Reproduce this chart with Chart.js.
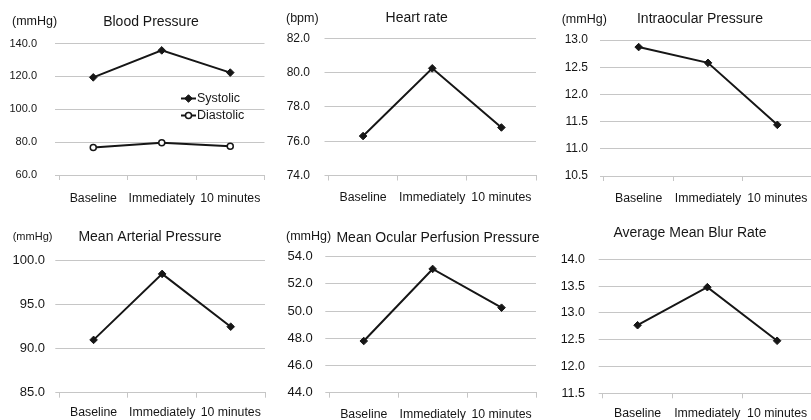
<!DOCTYPE html>
<html>
<head>
<meta charset="utf-8">
<script src="https://cdn.jsdelivr.net/npm/chart.js@4"></script>
<style>
    html, body { margin: 0; padding: 0; background: #fff; overflow: hidden; }
    body { width: 811px; height: 420px; position: relative; }
    .panel { position: absolute; }
</style>
</head>
<body>
<div class="panel" id="p1"><canvas id="c1"></canvas></div>
<div class="panel" id="p2"><canvas id="c2"></canvas></div>
<div class="panel" id="p3"><canvas id="c3"></canvas></div>
<div class="panel" id="p4"><canvas id="c4"></canvas></div>
<div class="panel" id="p5"><canvas id="c5"></canvas></div>
<div class="panel" id="p6"><canvas id="c6"></canvas></div>
<script>
// --- 1. 데이터 ---
const timeLabels = ['Baseline', 'Immediately', '10 minutes'];

const systolic = [119.4, 135.8, 122.3];
const diastolic = [76.7, 79.6, 77.5];
const heartRate = [76.3, 80.25, 76.8];
const intraocular = [12.87, 12.58, 11.44];
const meanArterial = [91.0, 98.5, 92.5];
const ocularPerfusion = [47.8, 53.1, 50.25];
const meanBlurRate = [12.77, 13.48, 12.48];

// y축 [min, max, step]
const bpTicks = [60, 140, 20];
const hrTicks = [74, 82, 2];
const iopTicks = [10.5, 13, 0.5];
const mapTicks = [85, 100, 5];
const moppTicks = [44, 54, 2];
const mbrTicks = [11.5, 14, 0.5];

// --- 2. 공통 스타일 ---
const FONT = "'Liberation Sans', Arial, sans-serif";
const TEXT = '#161616';
const GRID = '#c6c6c6';
const LINE = '#161616';

/** 제목과 단위 텍스트 */
const panelText = {
    id: 'panelText',
    afterDraw(chart, args, opts) {
        const ctx = chart.ctx;
        ctx.save();
        ctx.fillStyle = TEXT;
        ctx.textBaseline = 'middle';
        ctx.textAlign = 'center';
        ctx.font = '14px ' + FONT;
        ctx.fillText(opts.title, opts.titleX, opts.titleY);
        if (opts.unit) {
            ctx.textAlign = 'left';
            ctx.font = opts.unitSize + 'px ' + FONT;
            ctx.fillText(opts.unit, opts.unitX, opts.unitY);
        }
        ctx.restore();
    }
};

/** 혈압 차트 안쪽 범례 */
const innerLegend = {
    id: 'innerLegend',
    afterDraw(chart, args, opts) {
        if (!opts.show) return;
        const ctx = chart.ctx;
        ctx.save();
        chart.data.datasets.forEach((ds, i) => {
            const y = opts.y + i * opts.gap;
            ctx.strokeStyle = LINE;
            ctx.lineWidth = 2;
            ctx.beginPath();
            ctx.moveTo(opts.x, y);
            ctx.lineTo(opts.x + 15, y);
            ctx.stroke();
            ctx.fillStyle = ds.pointBackgroundColor;
            ctx.lineWidth = ds.pointBorderWidth;
            Chart.helpers.drawPoint(ctx, {
                pointStyle: ds.pointStyle,
                radius: ds.pointRadius,
                rotation: 0,
                borderWidth: ds.pointBorderWidth
            }, opts.x + 7.5, y);
            ctx.fillStyle = TEXT;
            ctx.font = '12.5px ' + FONT;
            ctx.textBaseline = 'middle';
            ctx.textAlign = 'left';
            ctx.fillText(ds.label, opts.x + 16, y);
        });
        ctx.restore();
    }
};

function series(label, values, hollow) {
    return {
        label: label,
        data: values,
        borderColor: LINE,
        borderWidth: 2,
        pointStyle: hollow ? 'circle' : 'rectRot',
        pointRadius: hollow ? 3 : 3.8,
        pointBackgroundColor: hollow ? '#fff' : LINE,
        pointBorderColor: LINE,
        pointBorderWidth: hollow ? 1.5 : 1,
        tension: 0
    };
}

/** 패널 하나 생성 */
function makePanel(p) {
    const box = document.getElementById(p.box);
    box.style.left = p.left + 'px';
    box.style.top = p.top + 'px';
    box.style.width = p.width + 'px';
    box.style.height = p.height + 'px';

    return new Chart(document.getElementById(p.canvas), {
        type: 'line',
        data: { labels: timeLabels, datasets: p.datasets },
        plugins: [panelText, innerLegend],
        options: {
            responsive: true,
            maintainAspectRatio: false,
            animation: false,
            layout: {
                padding: { left: 0, top: p.plotTop, right: p.width - p.plotRight, bottom: 0 }
            },
            plugins: {
                legend: { display: false },
                tooltip: { enabled: false },
                panelText: {
                    title: p.title, titleX: p.titleX, titleY: p.titleY,
                    unit: p.unit, unitX: p.unitX, unitY: p.unitY, unitSize: p.unitSize
                },
                innerLegend: p.legend || { show: false }
            },
            scales: {
                x: {
                    offset: true,
                    grid: {
                        offset: true,
                        drawOnChartArea: false,
                        color: GRID,
                        tickLength: 5
                    },
                    border: { display: true, color: GRID, width: 1 },
                    ticks: {
                        color: TEXT,
                        font: { family: FONT, size: 12.3 },
                        padding: p.xPad,
                        maxRotation: 0,
                        autoSkip: false
                    },
                    afterFit(scale) {
                        // 라벨 때문에 플롯 폭이 줄지 않도록
                        scale.height = p.height - p.plotBottom;
                        scale.paddingLeft = 0;
                        scale.paddingRight = 0;
                    }
                },
                y: {
                    min: p.ticks[0],
                    max: p.ticks[1],
                    grid: { color: GRID, tickLength: 4 },
                    border: { display: false },
                    ticks: {
                        stepSize: p.ticks[2],
                        color: TEXT,
                        font: { family: FONT, size: p.yFont },
                        padding: p.yPad,
                        callback: v => Number(v).toFixed(1)
                    },
                    afterFit(scale) { scale.width = p.plotLeft; }
                }
            }
        }
    });
}

// --- 3. 초기 실행 ---
makePanel({
    box: 'p1', canvas: 'c1', left: 0, top: 0, width: 270, height: 210,
    plotLeft: 59, plotTop: 43.5, plotRight: 266, plotBottom: 175,
    ticks: bpTicks, yFont: 11, yPad: 18, xPad: 11,
    title: 'Blood Pressure', titleX: 151, titleY: 22,
    unit: '(mmHg)', unitX: 12, unitY: 22, unitSize: 12.5,
    legend: { show: true, x: 181, y: 98.5, gap: 17 },
    datasets: [series('Systolic', systolic, false), series('Diastolic', diastolic, true)]
});

makePanel({
    box: 'p2', canvas: 'c2', left: 270, top: 0, width: 271, height: 210,
    plotLeft: 58.5, plotTop: 38.3, plotRight: 270.5, plotBottom: 175.5,
    ticks: hrTicks, yFont: 12, yPad: 14.5, xPad: 10,
    title: 'Heart rate', titleX: 146.7, titleY: 18.5,
    unit: '(bpm)', unitX: 16, unitY: 18.5, unitSize: 12.5,
    datasets: [series('Heart rate', heartRate, false)]
});

makePanel({
    box: 'p3', canvas: 'c3', left: 540, top: 0, width: 277, height: 210,
    plotLeft: 64, plotTop: 40, plotRight: 277, plotBottom: 176,
    ticks: iopTicks, yFont: 12, yPad: 12, xPad: 10,
    title: 'Intraocular Pressure', titleX: 160, titleY: 19,
    unit: '(mmHg)', unitX: 21.7, unitY: 19.5, unitSize: 12.5,
    datasets: [series('Intraocular Pressure', intraocular, false)]
});

makePanel({
    box: 'p4', canvas: 'c4', left: 0, top: 210, width: 270, height: 210,
    plotLeft: 59.3, plotTop: 50.7, plotRight: 266, plotBottom: 182.7,
    ticks: mapTicks, yFont: 13, yPad: 10.3, xPad: 8,
    title: 'Mean Arterial Pressure', titleX: 150, titleY: 26.7,
    unit: '(mmHg)', unitX: 12.7, unitY: 26.5, unitSize: 11,
    datasets: [series('Mean Arterial Pressure', meanArterial, false)]
});

makePanel({
    box: 'p5', canvas: 'c5', left: 270, top: 210, width: 271, height: 210,
    plotLeft: 59.3, plotTop: 46.7, plotRight: 268.7, plotBottom: 182.7,
    ticks: moppTicks, yFont: 13, yPad: 12.6, xPad: 9.5,
    title: 'Mean Ocular Perfusion Pressure', titleX: 168, titleY: 28.3,
    unit: '(mmHg)', unitX: 16, unitY: 27, unitSize: 12.5,
    datasets: [series('Mean Ocular Perfusion Pressure', ocularPerfusion, false)]
});

makePanel({
    box: 'p6', canvas: 'c6', left: 540, top: 210, width: 277, height: 210,
    plotLeft: 62.7, plotTop: 49.3, plotRight: 276.6, plotBottom: 183.3,
    ticks: mbrTicks, yFont: 12.5, yPad: 13.7, xPad: 7.5,
    title: 'Average Mean Blur Rate', titleX: 150, titleY: 23.3,
    unit: null,
    datasets: [series('Average Mean Blur Rate', meanBlurRate, false)]
});
</script>
</body>
</html>
